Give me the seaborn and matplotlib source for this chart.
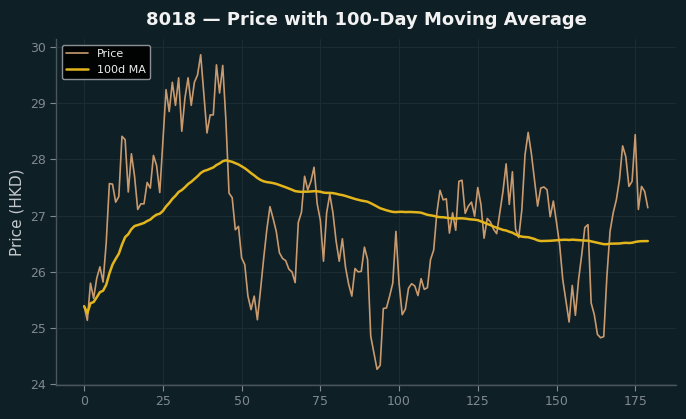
import numpy as np
import pandas as pd
import matplotlib
matplotlib.use("Agg")
import matplotlib.pyplot as plt
import seaborn as sns

ticker = "8018"
price = [
    25.39, 25.14, 25.80, 25.53, 25.89, 26.09, 25.82, 26.52, 27.57, 27.56,
    27.24, 27.34, 28.41, 28.35, 27.42, 28.10, 27.70, 27.11, 27.21, 27.21,
    27.59, 27.49, 28.07, 27.89, 27.41, 28.33, 29.24, 28.85, 29.37, 28.96,
    29.45, 28.50, 29.09, 29.45, 28.96, 29.37, 29.50, 29.86, 29.16, 28.47,
    28.79, 28.79, 29.68, 29.18, 29.67, 28.70, 27.40, 27.32, 26.75, 26.81,
    26.25, 26.13, 25.57, 25.33, 25.57, 25.15, 25.68, 26.24, 26.75, 27.16,
    26.95, 26.72, 26.34, 26.24, 26.20, 26.05, 26.00, 25.81, 26.88, 27.06,
    27.70, 27.46, 27.61, 27.86, 27.21, 26.92, 26.19, 27.05, 27.38, 27.05,
    26.55, 26.19, 26.59, 26.08, 25.78, 25.57, 26.06, 26.00, 26.01, 26.44,
    26.22, 24.86, 24.57, 24.27, 24.34, 25.35, 25.36, 25.57, 25.80, 26.72,
    25.80, 25.24, 25.34, 25.71, 25.79, 25.75, 25.58, 25.88, 25.69, 25.72,
    26.22, 26.39, 27.05, 27.45, 27.28, 27.30, 26.69, 27.05, 26.74, 27.61,
    27.63, 27.04, 27.17, 27.24, 26.99, 27.50, 27.20, 26.60, 26.95, 26.89,
    26.76, 26.68, 27.05, 27.43, 27.92, 27.20, 27.78, 26.76, 26.61, 27.11,
    28.08, 28.48, 28.11, 27.64, 27.17, 27.49, 27.51, 27.46, 26.98, 27.26,
    26.88, 26.48, 25.86, 25.48, 25.11, 25.76, 25.23, 25.86, 26.30, 26.79,
    26.84, 25.45, 25.24, 24.89, 24.83, 24.85, 25.92, 26.72, 27.05, 27.28,
    27.64, 28.24, 28.05, 27.52, 27.61, 28.44, 27.11, 27.52, 27.43, 27.14,
]
day = list(range(len(price)))
ma_window = 100

df = pd.DataFrame({"day": day, "price": price})
df["ma"] = df["price"].rolling(ma_window, min_periods=1).mean()

bg = "#0f1f26"
sns.set_theme(style="dark")
plt.rcParams["font.family"] = ["DejaVu Sans"]

fig, ax = plt.subplots(figsize=(6.86, 4.19), dpi=100)
fig.patch.set_facecolor(bg)
ax.set_facecolor(bg)
fig.subplots_adjust(left=56/686, right=676/686, top=1-39/419, bottom=1-385/419)

sns.lineplot(data=df, x="day", y="price", ax=ax, color="#c99a6e", linewidth=1.2, label="Price")
sns.lineplot(data=df, x="day", y="ma", ax=ax, color="#e3b51c", linewidth=1.8, label="100d MA")

ax.set_title(f"{ticker} — Price with 100-Day Moving Average", color="#f2f2f2",
             fontsize=13, fontweight="bold", pad=10)
ax.set_xlabel("")
ax.set_ylabel("Price (HKD)", color="#c3c9cc", fontsize=11)
ax.set_xticks([0, 25, 50, 75, 100, 125, 150, 175])
ax.tick_params(colors="#7f898e", labelsize=9, length=4, width=0.8,
               bottom=True, left=True)
ax.grid(True, color="#1c2c33", linewidth=0.8)
for s in ["top", "right"]:
    ax.spines[s].set_visible(False)
for s in ["left", "bottom"]:
    ax.spines[s].set_color("#4a565b")
    ax.spines[s].set_linewidth(1.0)

leg = ax.legend(loc="upper left", fontsize=8, facecolor="#000000",
                edgecolor="#9aa0a3", framealpha=0.9)
for t in leg.get_texts():
    t.set_color("#eeeeee")

fig.savefig("out.png", dpi=100, facecolor=bg)
